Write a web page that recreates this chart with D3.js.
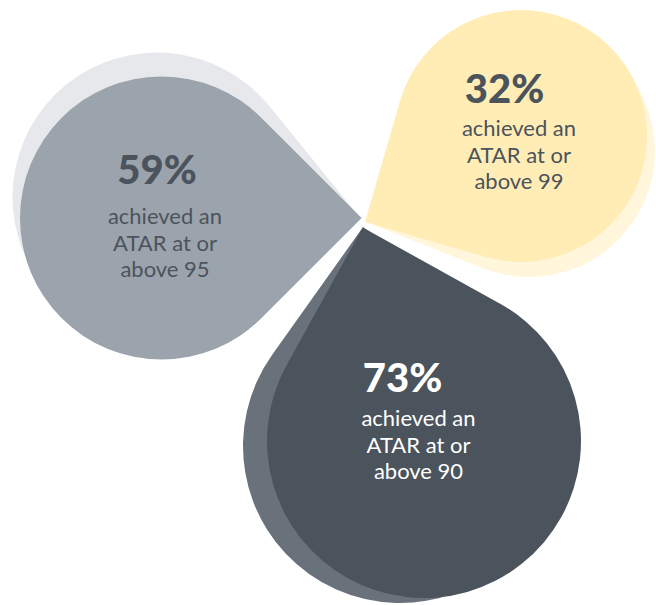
<!DOCTYPE html>
<html>
<head>
<meta charset="utf-8">
<script src="https://cdn.jsdelivr.net/npm/d3@7"></script>
<style>
  html, body { margin: 0; padding: 0; background: #fff; }
  svg { display: block; }
</style>
</head>
<body>
<div id="chart"></div>
<script>
// values
const shares = [59, 32, 73];            // % of students
const thresholds = [95, 99, 90];        // ATAR cut-off
const captionStart = ['achieved an', 'ATAR at or'];

// look of each drop (same order as the data)
const fills = ['#9ba3ac', '#ffedb5', '#4b535c'];
const shadowFills = ['#e7e8eb', '#fff6dc', '#69727b'];
const textFills = ['#4b535c', '#4b535c', '#ffffff'];

// drop geometry: centre, radius, direction of the tip (deg)
const drops = [
  { cx: 161.5, cy: 218, r: 141.5, a: 0 },
  { cx: 521, cy: 136, r: 126, a: 151.1 },
  { cx: 424, cy: 441, r: 157, a: -106 }
];
const shadows = [
  { cx: 157, cy: 197, r: 144.5, a: 5.9 },
  { cx: 529, cy: 151, r: 126, a: 156.6 },
  { cx: 400, cy: 446, r: 157, a: -99.6 }
];
// text placement: headline centre/baseline, caption centre/first baseline
const labels = [
  { hx: 157, hy: 184, bx: 165, by: 224 },
  { hx: 504.5, hy: 103, bx: 519, by: 136 },
  { hx: 402.5, hy: 392, bx: 418.5, by: 426 }
];

const W = 656, H = 605;
const svg = d3.select('#chart').append('svg')
  .attr('width', W)
  .attr('height', H)
  .attr('viewBox', [0, 0, W, H]);

// teardrop pointing along +x, circle of radius r at the origin, tip at r*sqrt2
function dropPath(r) {
  const p = d3.path();
  const k = r / Math.SQRT2;
  p.moveTo(r * Math.SQRT2, 0);
  p.lineTo(k, k);
  p.arc(0, 0, r, Math.PI / 4, -Math.PI / 4 + 2 * Math.PI);
  p.closePath();
  return p.toString();
}

const data = shares.map((v, i) => ({
  value: v,
  threshold: thresholds[i],
  fill: fills[i],
  shadow: shadowFills[i],
  text: textFills[i],
  drop: drops[i],
  sh: shadows[i],
  lab: labels[i]
}));

// shadows behind
svg.append('g')
  .selectAll('path')
  .data(data)
  .join('path')
  .attr('d', d => dropPath(d.sh.r))
  .attr('transform', d => `translate(${d.sh.cx},${d.sh.cy}) rotate(${d.sh.a})`)
  .attr('fill', d => d.shadow);

// main drops
svg.append('g')
  .selectAll('path')
  .data(data)
  .join('path')
  .attr('d', d => dropPath(d.drop.r))
  .attr('transform', d => `translate(${d.drop.cx},${d.drop.cy}) rotate(${d.drop.a})`)
  .attr('fill', d => d.fill);

const label = svg.append('g')
  .selectAll('g')
  .data(data)
  .join('g')
  .attr('font-family', 'Lato, "Open Sans", sans-serif')
  .attr('fill', d => d.text)
  .attr('text-anchor', 'middle');

label.append('text')
  .attr('x', d => d.lab.hx)
  .attr('y', d => d.lab.hy)
  .attr('font-size', 40)
  .attr('font-weight', 900)
  .text(d => `${d.value}%`);

label.each(function (d) {
  const lines = captionStart.concat([`above ${d.threshold}`]);
  d3.select(this).selectAll('text.cap')
    .data(lines)
    .join('text')
    .attr('class', 'cap')
    .attr('x', d.lab.bx)
    .attr('y', (t, j) => d.lab.by + j * 26.5)
    .attr('font-size', 22)
    .text(t => t);
});
</script>
</body>
</html>
